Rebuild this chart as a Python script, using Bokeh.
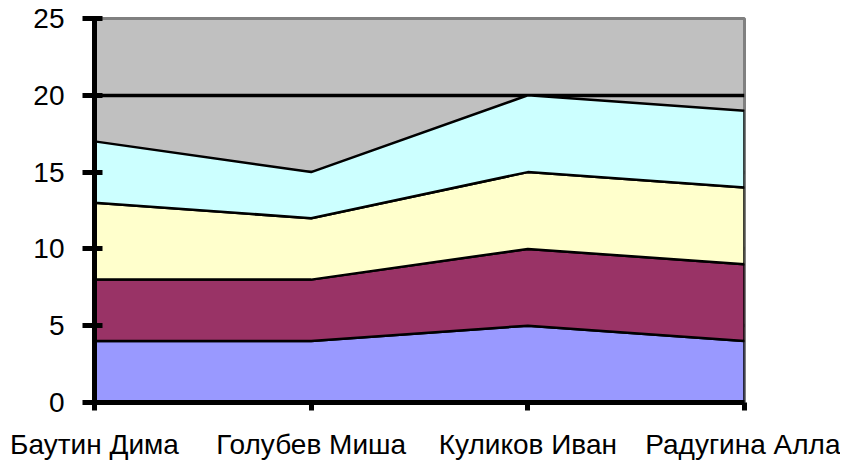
from bokeh.plotting import figure
from bokeh.models import Range1d, FixedTicker
from bokeh.embed import file_html
from bokeh.resources import INLINE

categories = ["Баутин Дима", "Голубев Миша", "Куликов Иван", "Радугина Алла"]
series1 = [4, 4, 5, 4]
series2 = [4, 4, 5, 5]
series3 = [5, 4, 5, 5]
series4 = [4, 3, 5, 5]
colors = ["#9999FF", "#993366", "#FFFFCC", "#CCFFFF"]
y_ticks = [0, 5, 10, 15, 20, 25]

p = figure(width=840, height=462, output_backend="svg", toolbar_location=None,
           x_range=Range1d(0, len(categories) - 1), y_range=Range1d(0, 25),
           min_border_left=94, min_border_right=96, min_border_top=18, min_border_bottom=60)
p.background_fill_color = "#C0C0C0"
p.border_fill_color = "white"
p.outline_line_color = "#808080"
p.outline_line_width = 3

xs = list(range(len(categories)))
base = [0] * len(categories)
for vals, col in zip([series1, series2, series3, series4], colors):
    top = [b + v for b, v in zip(base, vals)]
    px = xs + xs[::-1]
    py = top + base[::-1]
    p.patch(px, py, fill_color=col, line_color="black", line_width=2.5)
    base = top

p.xgrid.visible = False
p.ygrid.ticker = FixedTicker(ticks=[5, 10, 15, 20])
p.ygrid.grid_line_color = "black"
p.ygrid.grid_line_width = 3.5

font = "Liberation Sans"
p.xaxis.ticker = FixedTicker(ticks=xs)
p.xaxis.major_label_overrides = {i: c for i, c in enumerate(categories)}
p.yaxis.ticker = FixedTicker(ticks=y_ticks)
for ax in (p.xaxis, p.yaxis):
    ax.axis_line_color = "black"
    ax.axis_line_width = 5
    ax.major_tick_line_color = "black"
    ax.major_tick_line_width = 5
    ax.minor_tick_line_color = None
    ax.major_label_text_font = font
    ax.major_label_text_font_size = "28px"
    ax.major_label_text_color = "black"
p.yaxis.major_tick_in = 8
p.yaxis.major_tick_out = 12
p.yaxis.major_label_standoff = 18
p.xaxis.major_tick_in = 0
p.xaxis.major_tick_out = 8
p.xaxis.major_label_standoff = 18

open("out.html", "w").write(file_html(p, INLINE))
